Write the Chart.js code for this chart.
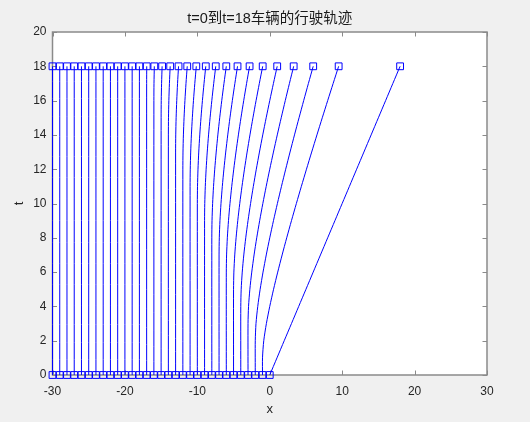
<!DOCTYPE html>
<html>
<head>
<meta charset="utf-8">
<script src="https://cdn.jsdelivr.net/npm/chart.js@4.4.1/dist/chart.umd.min.js"></script>
<style>
  html, body { margin: 0; padding: 0; background: #f0f0f0; }
  #wrap { width: 530px; height: 422px; }
</style>
</head>
<body>
<div id="wrap"><canvas id="c" width="530" height="422"></canvas></div>
<script>
// Initial positions of the 31 vehicles (t = 0)
const startX = [0, -1, -2, -3, -4, -5, -6, -7, -8, -9, -10, -11, -12, -13, -14, -15,
  -16, -17, -18, -19, -20, -21, -22, -23, -24, -25, -26, -27, -28, -29, -30];

// Time at which each of the first 19 vehicles starts to move
const departT = [0, 1, 2, 3, 4, 5, 6, 7, 8, 9, 10, 11, 12, 13, 14, 15, 16, 17, 18];

// Positions of the moving vehicles, one value per unit time from departure up to t = 18
const movingX = [
  [0, 1, 2, 3, 4, 5, 6, 7, 8, 9, 10, 11, 12, 13, 14, 15, 16, 17, 18],
  [-1, -0.828, -0.464, 0, 0.528, 1.101, 1.709, 2.343, 3, 3.675, 4.367, 5.072, 5.789, 6.517, 7.254, 8, 8.754, 9.515],
  [-2, -1.899, -1.657, -1.325, -0.928, -0.483, 0, 0.515, 1.056, 1.619, 2.202, 2.802, 3.417, 4.046, 4.686, 5.338, 6],
  [-3, -2.928, -2.746, -2.485, -2.165, -1.798, -1.392, -0.954, -0.489, 0, 0.51, 1.039, 1.584, 2.144, 2.717, 3.303],
  [-4, -3.944, -3.798, -3.583, -3.314, -3, -2.649, -2.266, -1.856, -1.422, -0.967, -0.492, 0, 0.508, 1.029],
  [-5, -4.954, -4.832, -4.649, -4.416, -4.142, -3.832, -3.492, -3.125, -2.733, -2.321, -1.889, -1.439, -0.974],
  [-6, -5.961, -5.856, -5.697, -5.492, -5.248, -4.971, -4.664, -4.33, -3.974, -3.596, -3.199, -2.785],
  [-7, -6.967, -6.875, -6.733, -6.55, -6.33, -6.079, -5.799, -5.494, -5.166, -4.817, -4.45],
  [-8, -7.971, -7.889, -7.762, -7.596, -7.396, -7.166, -6.909, -6.627, -6.324, -6],
  [-9, -8.974, -8.9, -8.785, -8.633, -8.45, -8.238, -8, -7.739, -7.456],
  [-10, -9.976, -9.909, -9.804, -9.664, -9.495, -9.298, -9.077, -8.833],
  [-11, -10.978, -10.917, -10.819, -10.69, -10.533, -10.35, -10.142],
  [-12, -11.98, -11.923, -11.833, -11.713, -11.566, -11.394],
  [-13, -12.981, -12.928, -12.844, -12.732, -12.594],
  [-14, -13.983, -13.933, -13.854, -13.749],
  [-15, -14.984, -14.937, -14.863],
  [-16, -15.985, -15.941],
  [-17, -16.986],
  [-18]
];

const endT = 18;
const xTicks = [-30, -20, -10, 0, 10, 20, 30];
const yTicks = [0, 2, 4, 6, 8, 10, 12, 14, 16, 18, 20];

const BLUE = '#0000ff';
const AXIS_GRAY = '#8a8a8a';
const TEXT = '#262626';
const FONT = "'Liberation Sans', Arial, 'Noto Sans CJK SC', sans-serif";

// Build each vehicle's trajectory in (x, t)
const tracks = startX.map((x0, i) => {
  const pts = [{ x: x0, y: 0 }];
  if (i < movingX.length) {
    const t0 = departT[i];
    movingX[i].forEach((x, j) => {
      const t = t0 + j;
      if (t > 0) pts.push({ x: x, y: t });
    });
    const last = pts[pts.length - 1];
    if (last.y < endT) pts.push({ x: last.x, y: endT });
  } else {
    pts.push({ x: x0, y: endT });
  }
  return pts;
});

const lineSets = tracks.map(pts => ({
  data: pts,
  showLine: true,
  borderColor: BLUE,
  borderWidth: 1,
  tension: 0.25,
  pointRadius: 0,
  pointHoverRadius: 0,
  clip: false
}));

const markerStyle = {
  showLine: false,
  pointStyle: 'rect',
  pointRadius: 4.8,
  pointHoverRadius: 4.8,
  borderColor: BLUE,
  pointBorderColor: BLUE,
  pointBackgroundColor: 'rgba(0,0,0,0)',
  pointBorderWidth: 1,
  clip: false
};

const startMarkers = Object.assign({ data: tracks.map(p => p[0]) }, markerStyle);
const endMarkers = Object.assign({ data: tracks.map(p => p[p.length - 1]) }, markerStyle);

// Figure background, white axes box, box outline and inward ticks
const framePlugin = {
  id: 'frame',
  beforeDraw(chart) {
    const { ctx, chartArea: a } = chart;
    ctx.save();
    ctx.fillStyle = '#f0f0f0';
    ctx.fillRect(0, 0, chart.width, chart.height);
    ctx.fillStyle = '#ffffff';
    ctx.fillRect(a.left, a.top, a.right - a.left, a.bottom - a.top);
    ctx.restore();
  },
  beforeDatasetsDraw(chart) {
    const { ctx, chartArea: a, scales } = chart;
    const len = 4.5;
    ctx.save();
    ctx.strokeStyle = AXIS_GRAY;
    ctx.lineWidth = 1.5;
    ctx.strokeRect(a.left, a.top, a.right - a.left, a.bottom - a.top);
    ctx.lineWidth = 1;
    ctx.beginPath();
    xTicks.forEach(v => {
      const px = Math.round(scales.x.getPixelForValue(v)) + 0.5;
      ctx.moveTo(px, a.bottom); ctx.lineTo(px, a.bottom - len);
      ctx.moveTo(px, a.top); ctx.lineTo(px, a.top + len);
    });
    yTicks.forEach(v => {
      const py = Math.round(scales.y.getPixelForValue(v)) + 0.5;
      ctx.moveTo(a.left, py); ctx.lineTo(a.left + len, py);
      ctx.moveTo(a.right, py); ctx.lineTo(a.right - len, py);
    });
    ctx.stroke();
    ctx.restore();
  }
};

new Chart(document.getElementById('c'), {
  type: 'scatter',
  data: { datasets: [...lineSets, startMarkers, endMarkers] },
  plugins: [framePlugin],
  options: {
    responsive: false,
    animation: false,
    events: [],
    layout: { padding: { left: 0, right: 43, top: 0, bottom: 0 } },
    plugins: {
      legend: { display: false },
      tooltip: { enabled: false },
      title: {
        display: true,
        fullSize: false,
        text: 't=0到t=18车辆的行驶轨迹',
        color: '#1a1a1a',
        font: { family: FONT, size: 14.5, weight: 'normal', lineHeight: 1.2 },
        padding: { top: 10, bottom: 4.6 }
      }
    },
    scales: {
      x: {
        type: 'linear',
        min: -30, max: 30,
        afterFit(scale) { scale.height = 47; },
        grid: { display: false, drawTicks: false },
        border: { display: false },
        ticks: {
          stepSize: 10,
          color: TEXT,
          padding: 9,
          font: { family: FONT, size: 12 }
        },
        title: {
          display: true,
          text: 'x',
          color: TEXT,
          font: { family: FONT, size: 13 },
          padding: { top: 0, bottom: 5 }
        }
      },
      y: {
        type: 'linear',
        min: 0, max: 20,
        afterFit(scale) { scale.width = 52.5; },
        grid: { display: false, drawTicks: false },
        border: { display: false },
        ticks: {
          stepSize: 2,
          color: TEXT,
          padding: 6,
          font: { family: FONT, size: 12 }
        },
        title: {
          display: true,
          text: 't',
          color: TEXT,
          font: { family: FONT, size: 13 },
          padding: { top: 12, bottom: 0 }
        }
      }
    }
  }
});
</script>
</body>
</html>
